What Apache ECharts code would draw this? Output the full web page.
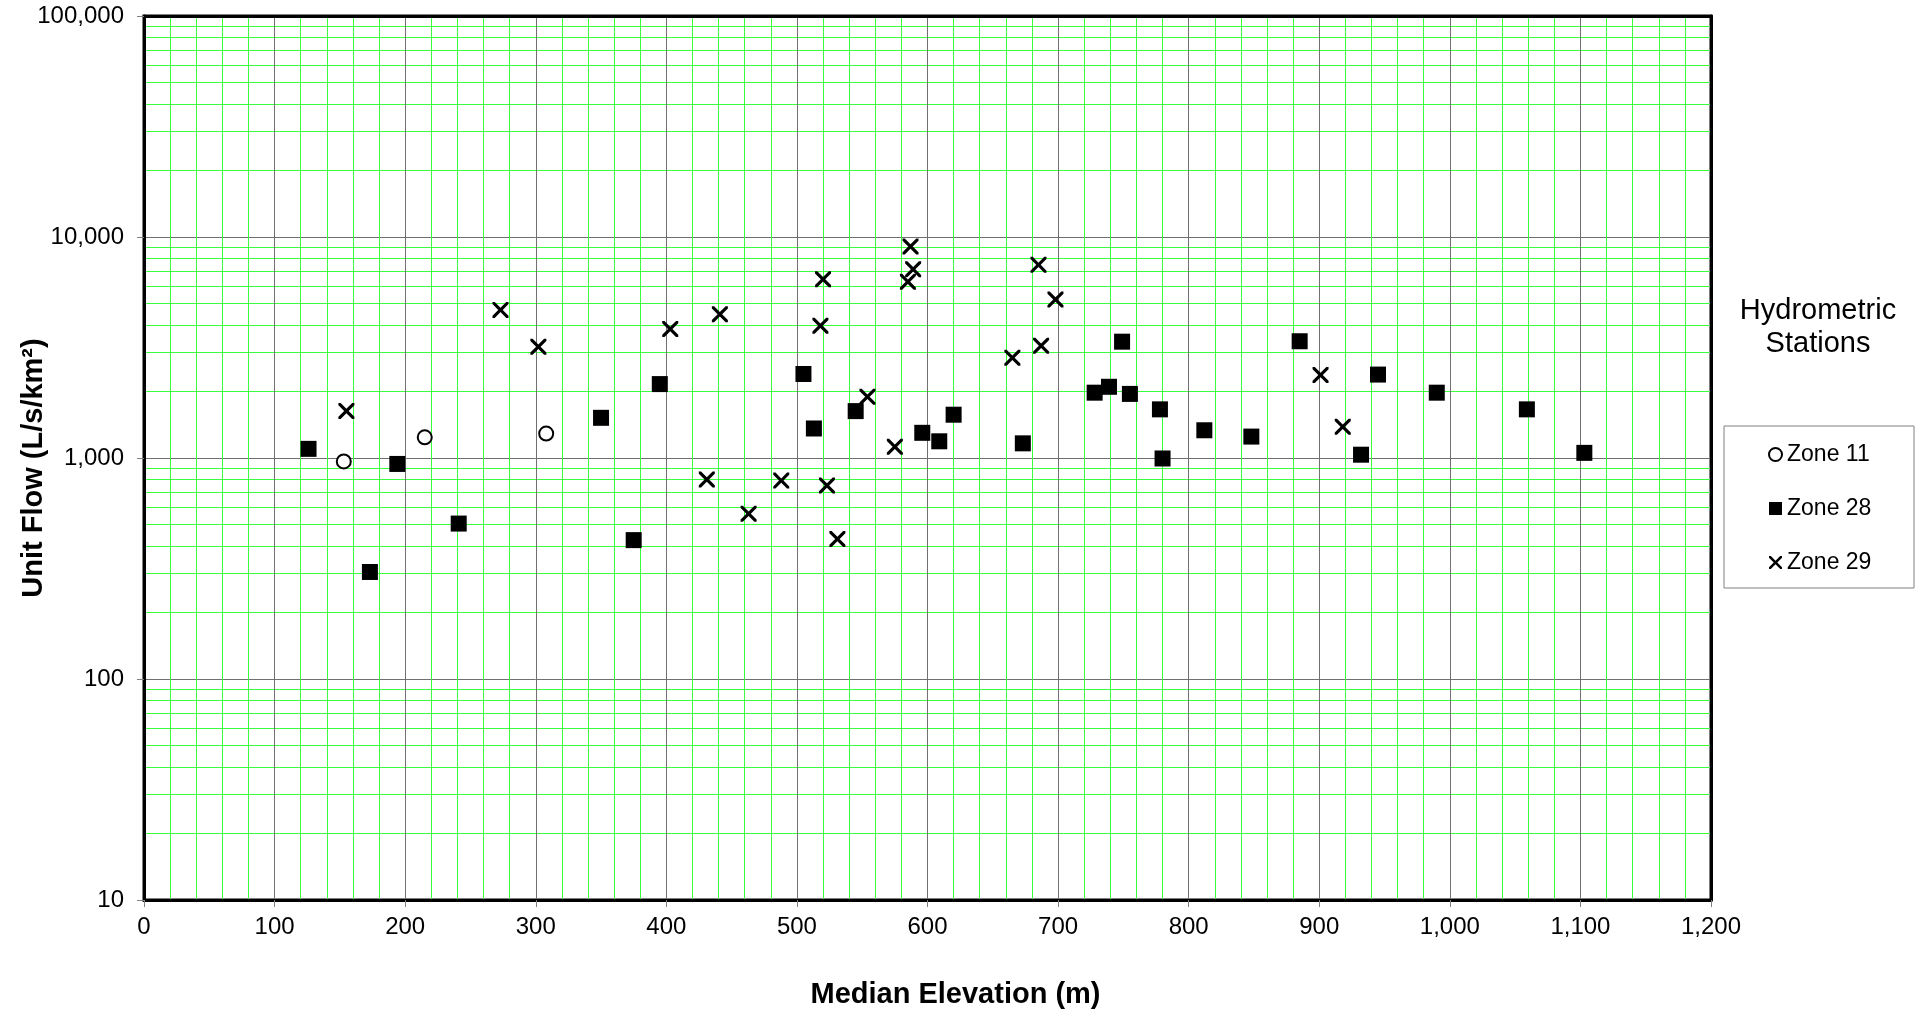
<!DOCTYPE html>
<html>
<head>
<meta charset="utf-8">
<script src="https://cdn.jsdelivr.net/npm/echarts@6/dist/echarts.min.js"></script>
<style>
  html, body { margin: 0; padding: 0; background: #fff; }
  #chart { width: 1927px; height: 1014px; }
</style>
</head>
<body>
<div id="chart"></div>
<script>
// median elevation (m) / unit flow (L/s/km2) per station
const zone11Elev = [153, 215, 308];
const zone11Flow = [965, 1240, 1290];

const zone28Elev = [126, 173, 194, 241, 350, 375, 395, 505, 513, 545, 596, 609, 620, 673,
  728, 739, 749, 755, 778, 780, 812, 848, 885, 932, 945, 990, 1059, 1103];
const zone28Flow = [1100, 305, 940, 505, 1520, 425, 2160, 2400, 1360, 1630, 1300, 1190, 1570, 1165,
  1975, 2100, 3360, 1950, 1660, 995, 1335, 1250, 3375, 1035, 2385, 1975, 1660, 1055];

const zone29Elev = [155, 273, 302, 403, 431, 441, 463, 488, 518, 520, 523, 531, 554, 575,
  585, 587, 589, 665, 685, 687, 698, 901, 918];
const zone29Flow = [1630, 4680, 3190, 3830, 800, 4470, 560, 790, 3970, 6440, 750, 430, 1895, 1125,
  6280, 9050, 7150, 2840, 7480, 3220, 5210, 2375, 1385];

const FONT = "'Liberation Sans', Arial, sans-serif";
const CROSS = "path://M0,0 L1.4,0 L5,3.6 L8.6,0 L10,0 L10,1.4 L6.4,5 L10,8.6 L10,10 L8.6,10 L5,6.4 L1.4,10 L0,10 L0,8.6 L3.6,5 L0,1.4 Z";

const pairs = (xs, ys) => xs.map((x, i) => [x, ys[i]]);
const fmt = (v) => Math.round(v).toLocaleString("en-US");

const chart = echarts.init(document.getElementById("chart"), null, { renderer: "canvas" });

const option = {
  backgroundColor: "#fff",
  animation: false,
  grid: {
    left: 144, right: 216, top: 16, bottom: 114,
    containLabel: false, outerBoundsMode: "none",
    show: true, backgroundColor: "#fff", borderColor: "#000", borderWidth: 3,
  },
  xAxis: [{
    type: "value", min: 0, max: 1200, interval: 100,
    name: "Median Elevation (m)", nameLocation: "middle", nameGap: 80, nameMoveOverlap: false,
    nameTextStyle: { fontFamily: FONT, fontSize: 29, fontWeight: "bold", color: "#000", padding: [0, 0, 0, 56] },
    axisLine: { lineStyle: { color: "#000", width: 3 } },
    axisTick: { show: true, length: 7, lineStyle: { color: "#808080" } },
    axisLabel: { fontFamily: FONT, fontSize: 24, color: "#000", margin: 15, formatter: fmt },
    splitLine: { show: true, showMinLine: false, showMaxLine: false, lineStyle: { color: "#707070", width: 1 } },
    minorTick: { show: false, splitNumber: 5 },
    minorSplitLine: { show: true, lineStyle: { color: "#3cff3c", width: 1 } },
  }, {
    type: "value", position: "top", min: 0, max: 1200,
    axisLine: { show: true, onZero: false, lineStyle: { color: "#000", width: 3 } },
    axisTick: { show: false }, axisLabel: { show: false }, splitLine: { show: false },
  }],
  yAxis: [{
    type: "log", logBase: 10, min: 10, max: 100000,
    name: "Unit Flow (L/s/km²)", nameLocation: "middle", nameGap: 96, nameMoveOverlap: false,
    nameTextStyle: { fontFamily: FONT, fontSize: 29, fontWeight: "bold", color: "#000", padding: [0, 20, 0, 0] },
    axisLine: { show: true, lineStyle: { color: "#000", width: 3 } },
    axisTick: { show: true, length: 7, lineStyle: { color: "#808080" } },
    axisLabel: { fontFamily: FONT, fontSize: 24, color: "#000", margin: 20, formatter: fmt },
    splitLine: { show: true, showMinLine: false, showMaxLine: false, lineStyle: { color: "#707070", width: 1 } },
    minorTick: { show: false, splitNumber: 9 },
    minorSplitLine: { show: true, lineStyle: { color: "#3cff3c", width: 1 } },
  }, {
    type: "log", logBase: 10, min: 10, max: 100000, position: "right",
    axisLine: { show: true, onZero: false, lineStyle: { color: "#000", width: 3 } },
    axisTick: { show: false }, axisLabel: { show: false }, splitLine: { show: false },
  }],
  legend: {
    orient: "vertical", left: 1768, top: 443, padding: 0,
    itemWidth: 13, itemHeight: 13, itemGap: 31,
    textStyle: { fontFamily: FONT, fontSize: 23, color: "#000" },
    data: ["Zone 11", "Zone 28", "Zone 29"],
  },
  graphic: [
    {
      type: "rect", x: 1724, y: 426, z: 10, silent: true,
      shape: { width: 190, height: 162 },
      style: { fill: "none", stroke: "#808080", lineWidth: 1 },
    },
    {
      type: "text", x: 1818, y: 294, z: 10, silent: true,
      style: {
        text: "Hydrometric\nStations", fontFamily: FONT, fontSize: 29, lineHeight: 33,
        fill: "#000", align: "center", verticalAlign: "top",
      },
    },
  ],
  series: [
    {
      name: "Zone 11", type: "scatter", data: pairs(zone11Elev, zone11Flow),
      symbol: "circle", symbolSize: 14,
      itemStyle: { color: "#fff", borderColor: "#000", borderWidth: 2, opacity: 1 },
    },
    {
      name: "Zone 28", type: "scatter", data: pairs(zone28Elev, zone28Flow),
      symbol: "rect", symbolSize: 16,
      itemStyle: { color: "#000", opacity: 1 },
    },
    {
      name: "Zone 29", type: "scatter", data: pairs(zone29Elev, zone29Flow),
      symbol: CROSS, symbolSize: 16,
      itemStyle: { color: "#000", opacity: 1 },
    },
  ],
};

chart.setOption(option);
</script>
</body>
</html>
